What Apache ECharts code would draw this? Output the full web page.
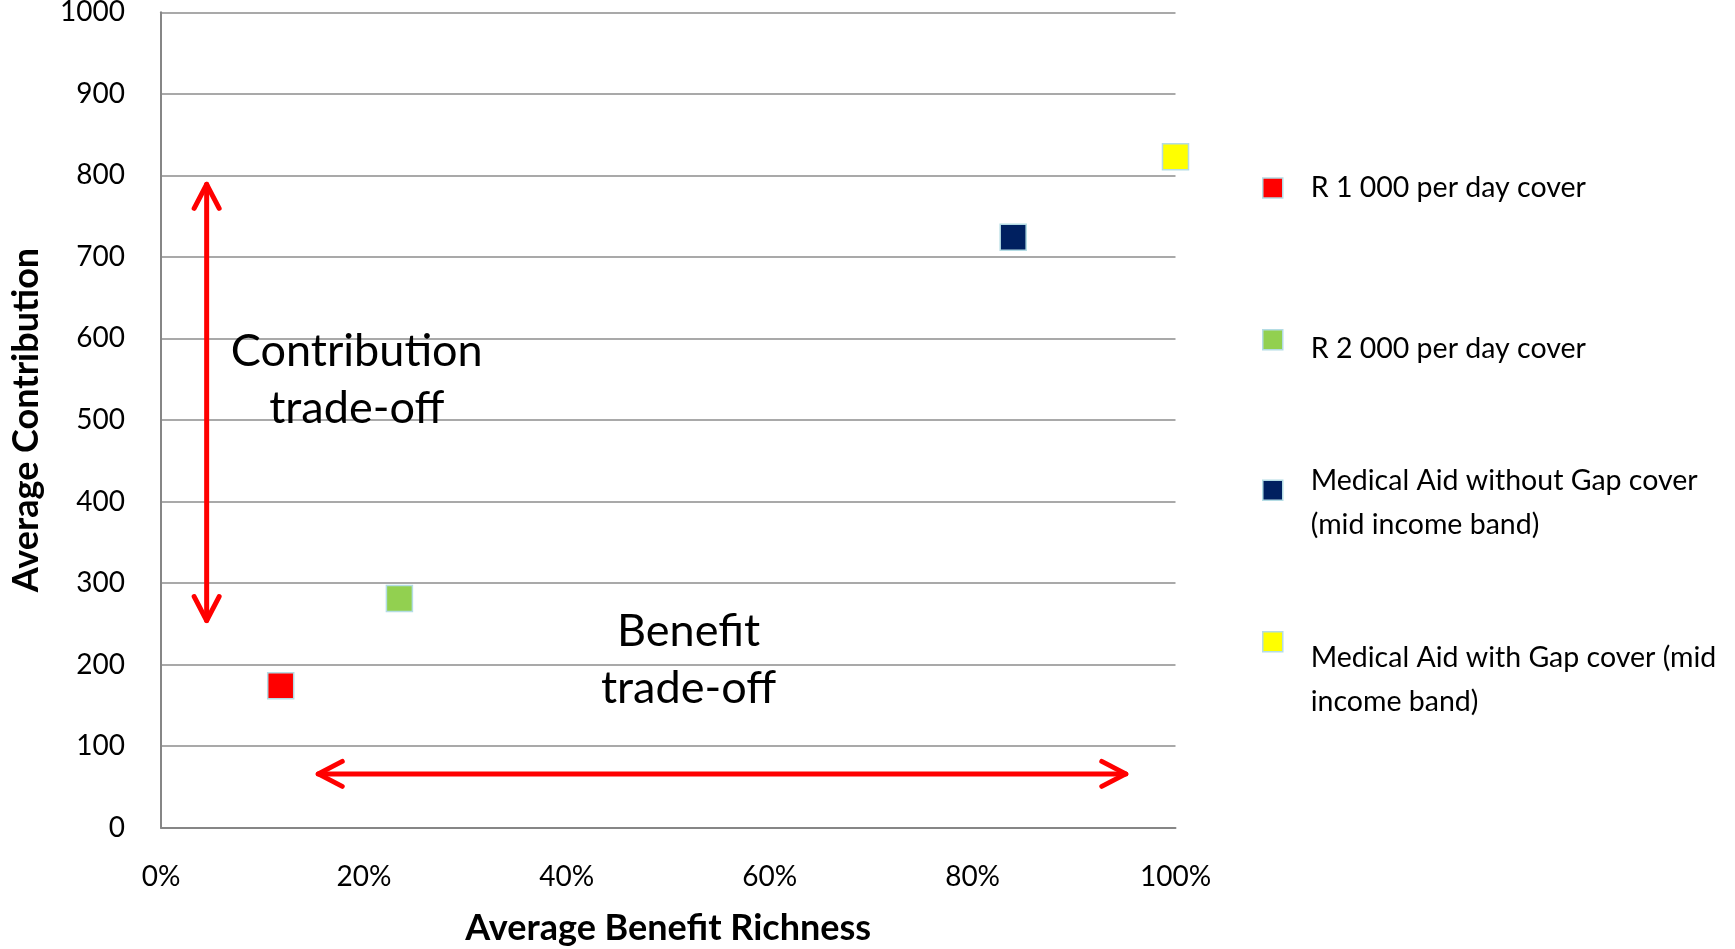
<!DOCTYPE html>
<html><head><meta charset="utf-8">
<script src="https://cdn.jsdelivr.net/npm/echarts@6/dist/echarts.min.js"></script>
<style>html,body{margin:0;padding:0;background:#fff}#c{width:1735px;height:949px}</style>
</head><body><div id="c"></div>
<script>
// ---- data ----
const seriesNames = ['R 1 000 per day cover', 'R 2 000 per day cover', 'Medical Aid without Gap cover (mid income band)', 'Medical Aid with Gap cover (mid income band)'];
const legendLines = [['R 1 000 per day cover'], ['R 2 000 per day cover'], ['Medical Aid without Gap cover', '(mid income band)'], ['Medical Aid with Gap cover (mid', 'income band)']];
const benefitRichness = [0.118, 0.235, 0.84, 1.0];
const avgContribution = [174, 281, 724, 823];
const seriesColors = ['#ff0000', '#92d050', '#002060', '#ffff00'];
const contributionArrow = [[0.045, 254], [0.045, 789]];
const benefitArrow = [[0.155, 66], [0.951, 66]];
const annotationTexts = ['Contribution\ntrade-off', 'Benefit\ntrade-off'];
const annotationAt = [[0.193, 549], [0.52, 206]];
// legend layout
const legendTops = [166, 308.7, 433.7, 559.8];
const legendTextShift = [0, 18, 25, 76];

const FONT = 'Lato, "Open Sans", sans-serif';
const chart = echarts.init(document.getElementById('c'), null, {renderer: 'canvas'});

const series = seriesNames.map((n, i) => ({
  name: n, type: 'scatter', symbol: 'rect', symbolSize: 26,
  itemStyle: {color: seriesColors[i], borderColor: '#b4dce4', borderWidth: 1.5, opacity: 1},
  data: [[benefitRichness[i], avgContribution[i]]]
}));

const legends = seriesNames.map((n, i) => ({
  data: [n], orient: 'vertical', left: 1262, top: legendTops[i], padding: 0,
  itemWidth: 20, itemHeight: 20, selectedMode: false,
  itemStyle: {borderColor: '#b4dce4', borderWidth: 1.5},
  formatter: () => {
    const body = legendLines[i].map(l => '{t|' + l + '}').join('\n');
    return legendTextShift[i] ? '{p| }\n' + body : body;
  },
  textStyle: {
    fontFamily: FONT, fontSize: 28.5, lineHeight: 44, color: '#000', padding: [0, 0, 0, 23],
    rich: {
      p: {fontSize: 2, lineHeight: legendTextShift[i] || 1, height: legendTextShift[i] || 1},
      t: {fontFamily: FONT, fontSize: 28.5, lineHeight: 44, color: '#000'}
    }
  }
}));

chart.setOption({
  animation: false,
  backgroundColor: '#fff',
  grid: {left: 161, right: 559.5, top: 12.3, bottom: 121.3, containLabel: false, outerBoundsMode: 'none'},
  xAxis: {
    type: 'value', min: 0, max: 1, interval: 0.2,
    name: 'Average Benefit Richness', nameLocation: 'middle', nameGap: 83,
    nameTextStyle: {fontFamily: FONT, fontSize: 36, fontWeight: 'bold', color: '#000'},
    axisLine: {show: true, lineStyle: {color: '#868686', width: 2}},
    axisTick: {show: false}, splitLine: {show: false},
    axisLabel: {margin: 35, fontFamily: FONT, fontSize: 28, color: '#000', formatter: v => Math.round(v * 100) + '%'}
  },
  yAxis: {
    type: 'value', min: 0, max: 1000, interval: 100,
    name: 'Average Contribution', nameLocation: 'middle', nameGap: 117, nameRotate: 90,
    nameTextStyle: {fontFamily: FONT, fontSize: 36, fontWeight: 'bold', color: '#000'},
    axisLine: {show: true, lineStyle: {color: '#868686', width: 2}},
    axisTick: {show: false},
    splitLine: {show: true, lineStyle: {color: '#8c8c8c', width: 1.5}},
    axisLabel: {margin: 36, fontFamily: FONT, fontSize: 28, color: '#000', formatter: v => String(v)}
  },
  legend: legends,
  series: series
});

function px(p) { return chart.convertToPixel({gridIndex: 0}, p); }
function arrow(a, b) {
  const p0 = px(a), p1 = px(b);
  const dx = p1[0] - p0[0], dy = p1[1] - p0[1];
  const L = Math.hypot(dx, dy), ux = dx / L, uy = dy / L, nx = -uy, ny = ux;
  const back = 24, side = 12.5;
  const style = {stroke: '#ff0000', lineWidth: 5, lineCap: 'round', lineJoin: 'round', fill: null};
  const head = (t, s) => [[t[0] - s * back * ux + side * nx, t[1] - s * back * uy + side * ny], t, [t[0] - s * back * ux - side * nx, t[1] - s * back * uy - side * ny]];
  return [
    {type: 'polyline', shape: {points: [p0, p1]}, style: style, z: 100},
    {type: 'polyline', shape: {points: head(p1, 1)}, style: style, z: 100},
    {type: 'polyline', shape: {points: head(p0, -1)}, style: style, z: 100}
  ];
}
const graphics = [].concat(arrow(contributionArrow[0], contributionArrow[1]), arrow(benefitArrow[0], benefitArrow[1]));
annotationTexts.forEach((t, i) => {
  const p = px(annotationAt[i]);
  graphics.push({type: 'text', x: p[0], y: p[1], z: 100,
    style: {text: t, fontFamily: FONT, fontSize: 45, lineHeight: 57, fill: '#000', align: 'center', verticalAlign: 'middle'}});
});
chart.setOption({graphic: graphics});
</script>
</body></html>
